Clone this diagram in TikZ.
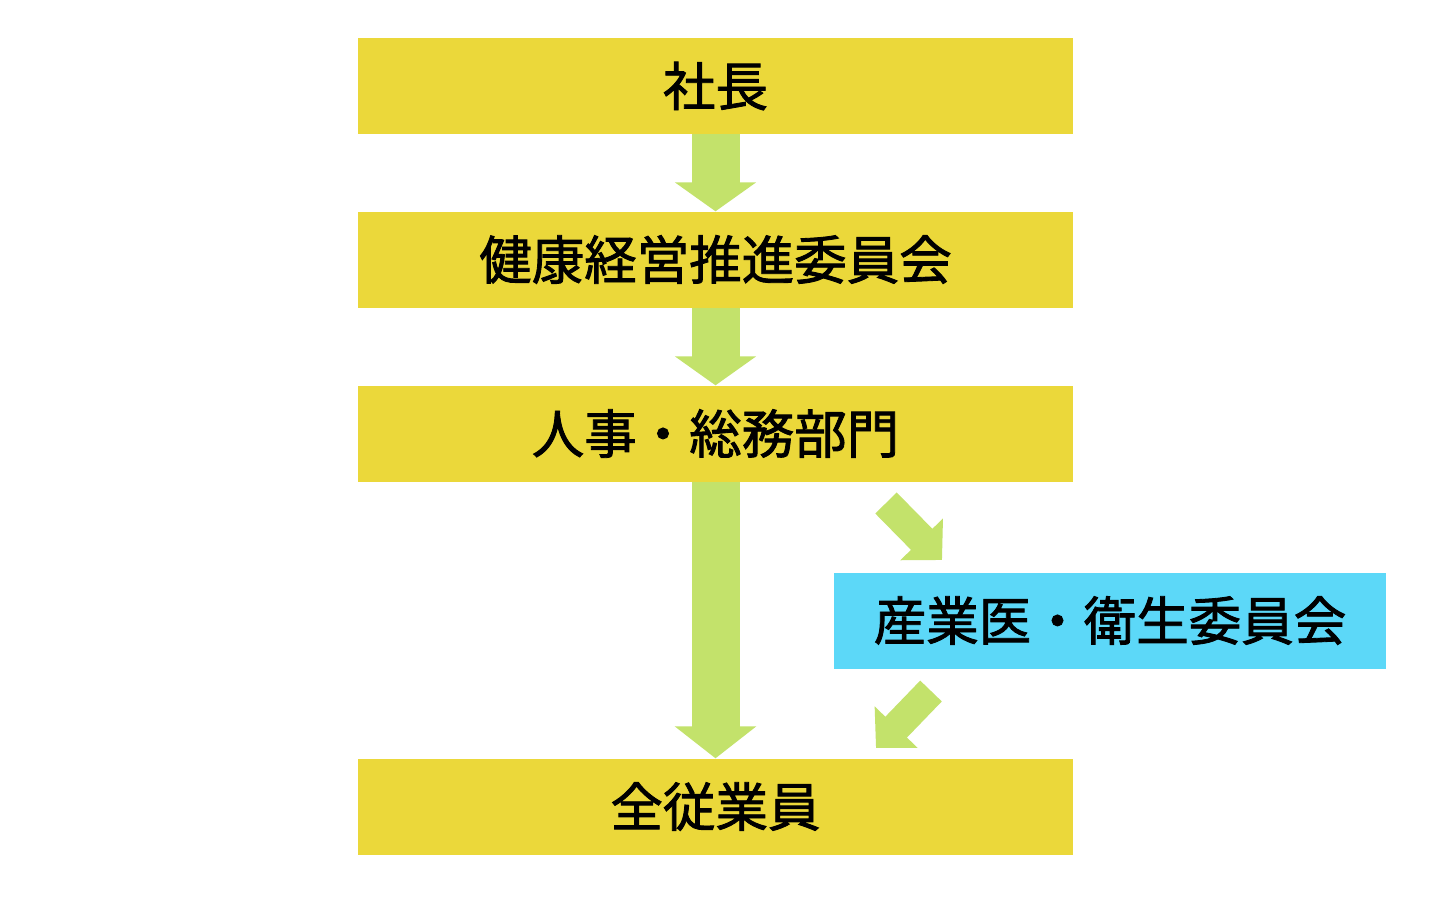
\documentclass[tikz,border=0pt]{standalone}
\usepackage{fontspec}
\newfontfamily\jpfont[FakeBold=1.6]{Noto Sans CJK JP}
\usetikzlibrary{arrows.meta}
\definecolor{boxyellow}{HTML}{EBD83A}
\definecolor{boxcyan}{HTML}{5CD8F8}
\definecolor{arrowgreen}{HTML}{C3E26B}
\begin{document}
\begin{tikzpicture}[x=1pt,y=-1pt,
  box/.style={fill=boxyellow,minimum width=715pt,minimum height=96pt,inner sep=0pt,
    font=\jpfont\fontsize{52.5}{60}\selectfont},
  gbox/.style={box,fill=boxcyan,minimum width=552pt},
  fat/.style={draw=arrowgreen,line width=48pt,-{Triangle[width=80pt,length=29pt]}},
  slim/.style={draw=arrowgreen,line width=30pt,-{Triangle[width=58pt,length=29pt]}}]
\useasboundingbox[fill=white] (0,0) rectangle (1440,922);
\node[box] (shacho) at (715.5,86){社長};
\node[box] (suishin) at (715.5,259.5){健康経営推進委員会};
\node[box] (jinji) at (715.5,433.5){人事・総務部門};
\node[gbox] (sangyoi) at (1110,620.5){産業医・衛生委員会};
\node[box] (zenin) at (715.5,806.5){全従業員};
% arrows
\draw[fat] (shacho.south)--(suishin.north);
\draw[fat] (suishin.south)--(jinji.north);
\draw[fat,-{Triangle[width=80pt,length=32pt]}] (jinji.south)--(zenin.north);
\coordinate (toa) at (886,503);
\coordinate (tob) at (942,560);
\coordinate (fromb) at (931,691);
\coordinate (froma) at (876,748);
\draw[slim] (toa)--(tob);
\draw[slim] (fromb)--(froma);
\end{tikzpicture}
\end{document}
